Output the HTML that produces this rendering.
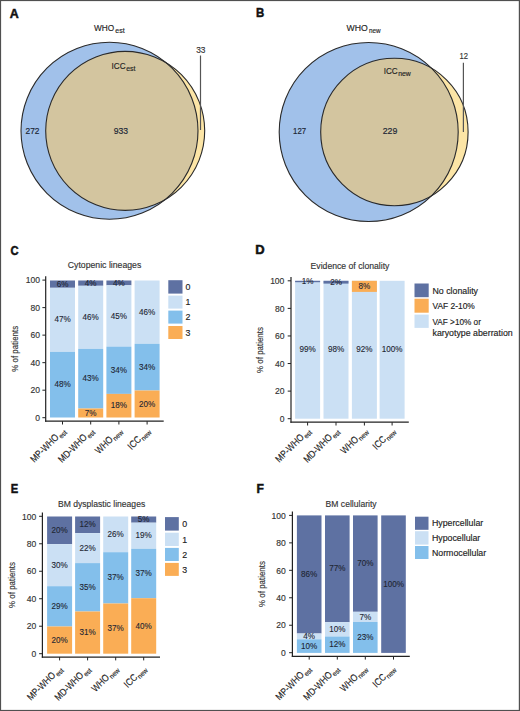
<!DOCTYPE html>
<html><head><meta charset="utf-8"><style>
html,body{margin:0;padding:0;background:#fff;}
body{width:520px;height:711px;overflow:hidden;}
svg{display:block;font-family:"Liberation Sans", sans-serif;}
</style></head><body>
<svg width="520" height="711" viewBox="0 0 520 711">
<rect x="0" y="0" width="520" height="711" fill="#fff"/>
<text x="9.87" y="17.9" font-size="13" text-anchor="start" font-weight="bold" fill="#111" textLength="8.98" lengthAdjust="spacingAndGlyphs" stroke="#111" stroke-width="0.5">A</text>
<clipPath id="clipa"><circle cx="109.5" cy="130.75" r="88.5"/></clipPath>
<circle cx="125.2" cy="130.85" r="79.5" fill="#fce5a6"/>
<circle cx="109.5" cy="130.75" r="88.5" fill="#a1c1ea"/>
<circle cx="125.2" cy="130.85" r="79.5" fill="#d3c59f" clip-path="url(#clipa)"/>
<circle cx="109.5" cy="130.75" r="88.5" fill="none" stroke="#2a2a2a" stroke-width="1.1"/>
<circle cx="125.2" cy="130.85" r="79.5" fill="none" stroke="#2a2a2a" stroke-width="1.1"/>
<text x="93.9" y="31.4" font-size="9.8" fill="#222" text-anchor="start"  stroke="#222" stroke-width="0.15"><tspan textLength="20.2" lengthAdjust="spacingAndGlyphs">WHO</tspan><tspan font-size="7" dy="1.8" dx="1.2" textLength="9.3" lengthAdjust="spacingAndGlyphs">est</tspan></text>
<text x="111.6" y="69.1" font-size="9.8" fill="#222" text-anchor="start"  stroke="#222" stroke-width="0.15"><tspan textLength="14.0" lengthAdjust="spacingAndGlyphs">ICC</tspan><tspan font-size="7" dy="2.0" dx="0.6" textLength="9.2" lengthAdjust="spacingAndGlyphs">est</tspan></text>
<text x="25.5" y="134.1" font-size="9.2" text-anchor="start" font-weight="normal" fill="#1c2636" textLength="13.9" lengthAdjust="spacingAndGlyphs" stroke="#1c2636" stroke-width="0.18">272</text>
<text x="113.8" y="134.1" font-size="9.2" text-anchor="start" font-weight="normal" fill="#1c2636" textLength="14.3" lengthAdjust="spacingAndGlyphs" stroke="#1c2636" stroke-width="0.18">933</text>
<text x="196.2" y="52.5" font-size="9.2" text-anchor="start" font-weight="normal" fill="#333" textLength="9.3" lengthAdjust="spacingAndGlyphs"  stroke="#333" stroke-width="0.15">33</text>
<line x1="200.5" y1="55.5" x2="200.5" y2="130" stroke="#555" stroke-width="1.2"/>
<text x="256.1" y="17.3" font-size="13" text-anchor="start" font-weight="bold" fill="#111" textLength="8.25" lengthAdjust="spacingAndGlyphs" stroke="#111" stroke-width="0.5">B</text>
<clipPath id="clipb"><circle cx="368.7" cy="132.0" r="89.5"/></clipPath>
<circle cx="394.4" cy="132.0" r="73.7" fill="#fce5a6"/>
<circle cx="368.7" cy="132.0" r="89.5" fill="#a1c1ea"/>
<circle cx="394.4" cy="132.0" r="73.7" fill="#d3c59f" clip-path="url(#clipb)"/>
<circle cx="368.7" cy="132.0" r="89.5" fill="none" stroke="#2a2a2a" stroke-width="1.1"/>
<circle cx="394.4" cy="132.0" r="73.7" fill="none" stroke="#2a2a2a" stroke-width="1.1"/>
<text x="346.6" y="31.4" font-size="9.8" fill="#222" text-anchor="start"  stroke="#222" stroke-width="0.15"><tspan textLength="21.2" lengthAdjust="spacingAndGlyphs">WHO</tspan><tspan font-size="7" dy="1.6" dx="1.2" textLength="11.6" lengthAdjust="spacingAndGlyphs">new</tspan></text>
<text x="383.7" y="73.7" font-size="9.8" fill="#222" text-anchor="start"  stroke="#222" stroke-width="0.15"><tspan textLength="14.0" lengthAdjust="spacingAndGlyphs">ICC</tspan><tspan font-size="7" dy="1.8" dx="0.6" textLength="12.5" lengthAdjust="spacingAndGlyphs">new</tspan></text>
<text x="293.1" y="134.1" font-size="9.2" text-anchor="start" font-weight="normal" fill="#1c2636" textLength="13" lengthAdjust="spacingAndGlyphs" stroke="#1c2636" stroke-width="0.18">127</text>
<text x="382.7" y="134.3" font-size="9.2" text-anchor="start" font-weight="normal" fill="#1c2636" textLength="14.6" lengthAdjust="spacingAndGlyphs" stroke="#1c2636" stroke-width="0.18">229</text>
<text x="459.5" y="59.2" font-size="9.2" text-anchor="start" font-weight="normal" fill="#333" textLength="8.5" lengthAdjust="spacingAndGlyphs"  stroke="#333" stroke-width="0.15">12</text>
<line x1="463.4" y1="62.8" x2="463.4" y2="131.9" stroke="#555" stroke-width="1.2"/>
<rect x="50" y="280.5" width="25" height="7.300000000000011" fill="#5e71a2"/>
<rect x="50" y="287.8" width="25" height="64.09999999999997" fill="#cbe0f4"/>
<rect x="50" y="351.9" width="25" height="65.60000000000002" fill="#83bfeb"/>
<text x="62.5" y="286.75" font-size="9" text-anchor="middle" font-weight="normal" fill="#1e2633" textLength="11.71" lengthAdjust="spacingAndGlyphs" stroke="#1e2633" stroke-width="0.12">6%</text>
<text x="62.5" y="322.45" font-size="9" text-anchor="middle" font-weight="normal" fill="#1e2633" textLength="16.21" lengthAdjust="spacingAndGlyphs" stroke="#1e2633" stroke-width="0.12">47%</text>
<text x="62.5" y="387.3" font-size="9" text-anchor="middle" font-weight="normal" fill="#1e2633" textLength="16.21" lengthAdjust="spacingAndGlyphs" stroke="#1e2633" stroke-width="0.12">48%</text>
<rect x="78.2" y="280.5" width="25" height="5.300000000000011" fill="#5e71a2"/>
<rect x="78.2" y="285.8" width="25" height="63.099999999999966" fill="#cbe0f4"/>
<rect x="78.2" y="348.9" width="25" height="59.60000000000002" fill="#83bfeb"/>
<rect x="78.2" y="408.5" width="25" height="9.0" fill="#faad55"/>
<text x="90.7" y="285.75" font-size="9" text-anchor="middle" font-weight="normal" fill="#1e2633" textLength="11.71" lengthAdjust="spacingAndGlyphs" stroke="#1e2633" stroke-width="0.12">4%</text>
<text x="90.7" y="319.95" font-size="9" text-anchor="middle" font-weight="normal" fill="#1e2633" textLength="16.21" lengthAdjust="spacingAndGlyphs" stroke="#1e2633" stroke-width="0.12">46%</text>
<text x="90.7" y="381.3" font-size="9" text-anchor="middle" font-weight="normal" fill="#1e2633" textLength="16.21" lengthAdjust="spacingAndGlyphs" stroke="#1e2633" stroke-width="0.12">43%</text>
<text x="90.7" y="415.6" font-size="9" text-anchor="middle" font-weight="normal" fill="#1e2633" textLength="11.71" lengthAdjust="spacingAndGlyphs" stroke="#1e2633" stroke-width="0.12">7%</text>
<rect x="106.4" y="280.5" width="25" height="4.800000000000011" fill="#5e71a2"/>
<rect x="106.4" y="285.3" width="25" height="61.30000000000001" fill="#cbe0f4"/>
<rect x="106.4" y="346.6" width="25" height="47.299999999999955" fill="#83bfeb"/>
<rect x="106.4" y="393.9" width="25" height="23.600000000000023" fill="#faad55"/>
<text x="118.9" y="285.5" font-size="9" text-anchor="middle" font-weight="normal" fill="#1e2633" textLength="11.71" lengthAdjust="spacingAndGlyphs" stroke="#1e2633" stroke-width="0.12">4%</text>
<text x="118.9" y="318.55" font-size="9" text-anchor="middle" font-weight="normal" fill="#1e2633" textLength="16.21" lengthAdjust="spacingAndGlyphs" stroke="#1e2633" stroke-width="0.12">45%</text>
<text x="118.9" y="372.85" font-size="9" text-anchor="middle" font-weight="normal" fill="#1e2633" textLength="16.21" lengthAdjust="spacingAndGlyphs" stroke="#1e2633" stroke-width="0.12">34%</text>
<text x="118.9" y="408.3" font-size="9" text-anchor="middle" font-weight="normal" fill="#1e2633" textLength="16.21" lengthAdjust="spacingAndGlyphs" stroke="#1e2633" stroke-width="0.12">18%</text>
<rect x="134.6" y="280.5" width="25" height="63.30000000000001" fill="#cbe0f4"/>
<rect x="134.6" y="343.8" width="25" height="46.69999999999999" fill="#83bfeb"/>
<rect x="134.6" y="390.5" width="25" height="27.0" fill="#faad55"/>
<text x="147.1" y="314.75" font-size="9" text-anchor="middle" font-weight="normal" fill="#1e2633" textLength="16.21" lengthAdjust="spacingAndGlyphs" stroke="#1e2633" stroke-width="0.12">46%</text>
<text x="147.1" y="369.75" font-size="9" text-anchor="middle" font-weight="normal" fill="#1e2633" textLength="16.21" lengthAdjust="spacingAndGlyphs" stroke="#1e2633" stroke-width="0.12">34%</text>
<text x="147.1" y="406.6" font-size="9" text-anchor="middle" font-weight="normal" fill="#1e2633" textLength="16.21" lengthAdjust="spacingAndGlyphs" stroke="#1e2633" stroke-width="0.12">20%</text>
<line x1="45.7" y1="276.20000000000005" x2="45.7" y2="421.8" stroke="#222" stroke-width="1.2"/>
<line x1="42.400000000000006" y1="280.10" x2="45.7" y2="280.10" stroke="#222" stroke-width="1"/>
<text x="40.0" y="283.3" font-size="9" text-anchor="end" font-weight="normal" fill="#333" textLength="14.26" lengthAdjust="spacingAndGlyphs"  stroke="#333" stroke-width="0.15">100</text>
<line x1="42.400000000000006" y1="307.62" x2="45.7" y2="307.62" stroke="#222" stroke-width="1"/>
<text x="40.0" y="310.82" font-size="9" text-anchor="end" font-weight="normal" fill="#333" textLength="9.51" lengthAdjust="spacingAndGlyphs"  stroke="#333" stroke-width="0.15">80</text>
<line x1="42.400000000000006" y1="335.14" x2="45.7" y2="335.14" stroke="#222" stroke-width="1"/>
<text x="40.0" y="338.34" font-size="9" text-anchor="end" font-weight="normal" fill="#333" textLength="9.51" lengthAdjust="spacingAndGlyphs"  stroke="#333" stroke-width="0.15">60</text>
<line x1="42.400000000000006" y1="362.66" x2="45.7" y2="362.66" stroke="#222" stroke-width="1"/>
<text x="40.0" y="365.86" font-size="9" text-anchor="end" font-weight="normal" fill="#333" textLength="9.51" lengthAdjust="spacingAndGlyphs"  stroke="#333" stroke-width="0.15">40</text>
<line x1="42.400000000000006" y1="390.18" x2="45.7" y2="390.18" stroke="#222" stroke-width="1"/>
<text x="40.0" y="393.38" font-size="9" text-anchor="end" font-weight="normal" fill="#333" textLength="9.51" lengthAdjust="spacingAndGlyphs"  stroke="#333" stroke-width="0.15">20</text>
<line x1="42.400000000000006" y1="417.70" x2="45.7" y2="417.70" stroke="#222" stroke-width="1"/>
<text x="40.0" y="420.9" font-size="9" text-anchor="end" font-weight="normal" fill="#333" textLength="4.75" lengthAdjust="spacingAndGlyphs"  stroke="#333" stroke-width="0.15">0</text>
<line x1="45.1" y1="421.2" x2="163.7" y2="421.2" stroke="#222" stroke-width="1.2"/>
<line x1="62.50" y1="421.2" x2="62.50" y2="424.5" stroke="#222" stroke-width="1"/>
<line x1="90.70" y1="421.2" x2="90.70" y2="424.5" stroke="#222" stroke-width="1"/>
<line x1="118.90" y1="421.2" x2="118.90" y2="424.5" stroke="#222" stroke-width="1"/>
<line x1="147.10" y1="421.2" x2="147.10" y2="424.5" stroke="#222" stroke-width="1"/>
<text x="0" y="0" font-size="9.8" fill="#222" stroke="#222" stroke-width="0.15" text-anchor="end" transform="translate(65.90,431.30) rotate(-45)"><tspan textLength="35.61" lengthAdjust="spacingAndGlyphs">MP-WHO</tspan><tspan font-size="6.8" dy="2.3" dx="0.6" textLength="8.62" lengthAdjust="spacingAndGlyphs">est</tspan></text>
<text x="0" y="0" font-size="9.8" fill="#222" stroke="#222" stroke-width="0.15" text-anchor="end" transform="translate(94.10,431.30) rotate(-45)"><tspan textLength="36.07" lengthAdjust="spacingAndGlyphs">MD-WHO</tspan><tspan font-size="6.8" dy="2.3" dx="0.6" textLength="8.62" lengthAdjust="spacingAndGlyphs">est</tspan></text>
<text x="0" y="0" font-size="9.8" fill="#222" stroke="#222" stroke-width="0.15" text-anchor="end" transform="translate(122.30,431.30) rotate(-45)"><tspan textLength="20.35" lengthAdjust="spacingAndGlyphs">WHO</tspan><tspan font-size="6.8" dy="2.3" dx="0.6" textLength="11.85" lengthAdjust="spacingAndGlyphs">new</tspan></text>
<text x="0" y="0" font-size="9.8" fill="#222" stroke="#222" stroke-width="0.15" text-anchor="end" transform="translate(150.50,431.30) rotate(-45)"><tspan textLength="14.34" lengthAdjust="spacingAndGlyphs">ICC</tspan><tspan font-size="6.8" dy="2.3" dx="0.6" textLength="11.85" lengthAdjust="spacingAndGlyphs">new</tspan></text>
<text x="0" y="0" font-size="9" fill="#333" stroke="#333" stroke-width="0.15" text-anchor="middle" textLength="45.8" lengthAdjust="spacingAndGlyphs" transform="translate(18.2,348.8) rotate(-90)">% of patients</text>
<text x="67.8" y="268" font-size="8.8" text-anchor="start" font-weight="normal" fill="#333" textLength="73.5" lengthAdjust="spacingAndGlyphs"  stroke="#333" stroke-width="0.15">Cytopenic lineages</text>
<text x="10.4" y="254.6" font-size="13" text-anchor="start" font-weight="bold" fill="#111" textLength="8.04" lengthAdjust="spacingAndGlyphs" stroke="#111" stroke-width="0.5">C</text>
<rect x="168.3" y="280.2" width="14.199999999999989" height="13.400000000000034" fill="#5e71a2"/>
<text x="185.6" y="290.1" font-size="8.8" text-anchor="start" font-weight="normal" fill="#222"  stroke="#222" stroke-width="0.15">0</text>
<rect x="168.3" y="295.6" width="14.199999999999989" height="13.0" fill="#cbe0f4"/>
<text x="185.6" y="305.3" font-size="8.8" text-anchor="start" font-weight="normal" fill="#222"  stroke="#222" stroke-width="0.15">1</text>
<rect x="168.3" y="310.6" width="14.199999999999989" height="13.0" fill="#83bfeb"/>
<text x="185.6" y="320.3" font-size="8.8" text-anchor="start" font-weight="normal" fill="#222"  stroke="#222" stroke-width="0.15">2</text>
<rect x="168.3" y="326" width="14.199999999999989" height="13" fill="#faad55"/>
<text x="185.6" y="335.7" font-size="8.8" text-anchor="start" font-weight="normal" fill="#222"  stroke="#222" stroke-width="0.15">3</text>
<rect x="295.1" y="280.8" width="25" height="137.89999999999998" fill="#cbe0f4"/>
<rect x="295.1" y="280.8" width="25" height="1.3999999999999773" fill="#5e71a2"/>
<text x="307.6" y="352.35" font-size="9" text-anchor="middle" font-weight="normal" fill="#1e2633" textLength="16.21" lengthAdjust="spacingAndGlyphs" stroke="#1e2633" stroke-width="0.12">99%</text>
<text x="307.6" y="284.1" font-size="9" text-anchor="middle" font-weight="normal" fill="#1e2633" textLength="11.71" lengthAdjust="spacingAndGlyphs" stroke="#1e2633" stroke-width="0.12">1%</text>
<rect x="323.5" y="280.8" width="25" height="137.89999999999998" fill="#cbe0f4"/>
<rect x="323.5" y="280.8" width="25" height="2.8000000000000114" fill="#5e71a2"/>
<text x="336.0" y="352.35" font-size="9" text-anchor="middle" font-weight="normal" fill="#1e2633" textLength="16.21" lengthAdjust="spacingAndGlyphs" stroke="#1e2633" stroke-width="0.12">98%</text>
<text x="336.0" y="284.8" font-size="9" text-anchor="middle" font-weight="normal" fill="#1e2633" textLength="11.71" lengthAdjust="spacingAndGlyphs" stroke="#1e2633" stroke-width="0.12">2%</text>
<rect x="351.9" y="280.8" width="25" height="137.89999999999998" fill="#cbe0f4"/>
<rect x="351.9" y="280.8" width="25" height="11.099999999999966" fill="#faad55"/>
<text x="364.4" y="352.35" font-size="9" text-anchor="middle" font-weight="normal" fill="#1e2633" textLength="16.21" lengthAdjust="spacingAndGlyphs" stroke="#1e2633" stroke-width="0.12">92%</text>
<text x="364.4" y="288.95" font-size="9" text-anchor="middle" font-weight="normal" fill="#1e2633" textLength="11.71" lengthAdjust="spacingAndGlyphs" stroke="#1e2633" stroke-width="0.12">8%</text>
<rect x="379.6" y="280.8" width="25" height="137.89999999999998" fill="#cbe0f4"/>
<text x="392.1" y="352.35" font-size="9" text-anchor="middle" font-weight="normal" fill="#1e2633" textLength="20.72" lengthAdjust="spacingAndGlyphs" stroke="#1e2633" stroke-width="0.12">100%</text>
<line x1="291" y1="276.90000000000003" x2="291" y2="422.8" stroke="#222" stroke-width="1.2"/>
<line x1="287.7" y1="280.80" x2="291" y2="280.80" stroke="#222" stroke-width="1"/>
<text x="284.4" y="284.0" font-size="9" text-anchor="end" font-weight="normal" fill="#333" textLength="14.26" lengthAdjust="spacingAndGlyphs"  stroke="#333" stroke-width="0.15">100</text>
<line x1="287.7" y1="308.38" x2="291" y2="308.38" stroke="#222" stroke-width="1"/>
<text x="284.4" y="311.58" font-size="9" text-anchor="end" font-weight="normal" fill="#333" textLength="9.51" lengthAdjust="spacingAndGlyphs"  stroke="#333" stroke-width="0.15">80</text>
<line x1="287.7" y1="335.96" x2="291" y2="335.96" stroke="#222" stroke-width="1"/>
<text x="284.4" y="339.16" font-size="9" text-anchor="end" font-weight="normal" fill="#333" textLength="9.51" lengthAdjust="spacingAndGlyphs"  stroke="#333" stroke-width="0.15">60</text>
<line x1="287.7" y1="363.54" x2="291" y2="363.54" stroke="#222" stroke-width="1"/>
<text x="284.4" y="366.74" font-size="9" text-anchor="end" font-weight="normal" fill="#333" textLength="9.51" lengthAdjust="spacingAndGlyphs"  stroke="#333" stroke-width="0.15">40</text>
<line x1="287.7" y1="391.12" x2="291" y2="391.12" stroke="#222" stroke-width="1"/>
<text x="284.4" y="394.32" font-size="9" text-anchor="end" font-weight="normal" fill="#333" textLength="9.51" lengthAdjust="spacingAndGlyphs"  stroke="#333" stroke-width="0.15">20</text>
<line x1="287.7" y1="418.70" x2="291" y2="418.70" stroke="#222" stroke-width="1"/>
<text x="284.4" y="421.9" font-size="9" text-anchor="end" font-weight="normal" fill="#333" textLength="4.75" lengthAdjust="spacingAndGlyphs"  stroke="#333" stroke-width="0.15">0</text>
<line x1="290.4" y1="422.2" x2="408.8" y2="422.2" stroke="#222" stroke-width="1.2"/>
<line x1="307.60" y1="422.2" x2="307.60" y2="425.5" stroke="#222" stroke-width="1"/>
<line x1="336.00" y1="422.2" x2="336.00" y2="425.5" stroke="#222" stroke-width="1"/>
<line x1="364.40" y1="422.2" x2="364.40" y2="425.5" stroke="#222" stroke-width="1"/>
<line x1="392.10" y1="422.2" x2="392.10" y2="425.5" stroke="#222" stroke-width="1"/>
<text x="0" y="0" font-size="9.8" fill="#222" stroke="#222" stroke-width="0.15" text-anchor="end" transform="translate(311.00,431.30) rotate(-45)"><tspan textLength="35.61" lengthAdjust="spacingAndGlyphs">MP-WHO</tspan><tspan font-size="6.8" dy="2.3" dx="0.6" textLength="8.62" lengthAdjust="spacingAndGlyphs">est</tspan></text>
<text x="0" y="0" font-size="9.8" fill="#222" stroke="#222" stroke-width="0.15" text-anchor="end" transform="translate(339.40,431.30) rotate(-45)"><tspan textLength="36.07" lengthAdjust="spacingAndGlyphs">MD-WHO</tspan><tspan font-size="6.8" dy="2.3" dx="0.6" textLength="8.62" lengthAdjust="spacingAndGlyphs">est</tspan></text>
<text x="0" y="0" font-size="9.8" fill="#222" stroke="#222" stroke-width="0.15" text-anchor="end" transform="translate(367.80,431.30) rotate(-45)"><tspan textLength="20.35" lengthAdjust="spacingAndGlyphs">WHO</tspan><tspan font-size="6.8" dy="2.3" dx="0.6" textLength="11.85" lengthAdjust="spacingAndGlyphs">new</tspan></text>
<text x="0" y="0" font-size="9.8" fill="#222" stroke="#222" stroke-width="0.15" text-anchor="end" transform="translate(395.50,431.30) rotate(-45)"><tspan textLength="14.34" lengthAdjust="spacingAndGlyphs">ICC</tspan><tspan font-size="6.8" dy="2.3" dx="0.6" textLength="11.85" lengthAdjust="spacingAndGlyphs">new</tspan></text>
<text x="0" y="0" font-size="9" fill="#333" stroke="#333" stroke-width="0.15" text-anchor="middle" textLength="45.8" lengthAdjust="spacingAndGlyphs" transform="translate(263.3,350) rotate(-90)">% of patients</text>
<text x="310.6" y="268.5" font-size="8.8" text-anchor="start" font-weight="normal" fill="#333" textLength="78.8" lengthAdjust="spacingAndGlyphs"  stroke="#333" stroke-width="0.15">Evidence of clonality</text>
<text x="255.33" y="254.3" font-size="13" text-anchor="start" font-weight="bold" fill="#111" stroke="#111" stroke-width="0.5">D</text>
<rect x="414.5" y="283.5" width="14.199999999999989" height="13.699999999999989" fill="#5e71a2"/>
<text x="432.5" y="293.55" font-size="8.8" text-anchor="start" font-weight="normal" fill="#222"  stroke="#222" stroke-width="0.15">No clonality</text>
<rect x="414.5" y="298.7" width="14.199999999999989" height="14.0" fill="#faad55"/>
<text x="432.5" y="308.9" font-size="8.8" text-anchor="start" font-weight="normal" fill="#222" textLength="42.3" lengthAdjust="spacingAndGlyphs"  stroke="#222" stroke-width="0.15">VAF 2-10%</text>
<rect x="414.5" y="314.6" width="14.199999999999989" height="13.299999999999955" fill="#cbe0f4"/>
<text x="432.5" y="325.0" font-size="8.8" text-anchor="start" font-weight="normal" fill="#222" textLength="48.4" lengthAdjust="spacingAndGlyphs"  stroke="#222" stroke-width="0.15">VAF &gt;10% or</text>
<text x="432.5" y="336.0" font-size="8.8" text-anchor="start" font-weight="normal" fill="#222"  stroke="#222" stroke-width="0.15">karyotype aberration</text>
<rect x="47.1" y="516.5" width="25" height="27.700000000000045" fill="#5e71a2"/>
<rect x="47.1" y="544.2" width="25" height="42.0" fill="#cbe0f4"/>
<rect x="47.1" y="586.2" width="25" height="40.299999999999955" fill="#83bfeb"/>
<rect x="47.1" y="626.5" width="25" height="27.200000000000045" fill="#faad55"/>
<text x="59.6" y="532.95" font-size="9" text-anchor="middle" font-weight="normal" fill="#1e2633" textLength="16.21" lengthAdjust="spacingAndGlyphs" stroke="#1e2633" stroke-width="0.12">20%</text>
<text x="59.6" y="567.8" font-size="9" text-anchor="middle" font-weight="normal" fill="#1e2633" textLength="16.21" lengthAdjust="spacingAndGlyphs" stroke="#1e2633" stroke-width="0.12">30%</text>
<text x="59.6" y="608.95" font-size="9" text-anchor="middle" font-weight="normal" fill="#1e2633" textLength="16.21" lengthAdjust="spacingAndGlyphs" stroke="#1e2633" stroke-width="0.12">29%</text>
<text x="59.6" y="642.7" font-size="9" text-anchor="middle" font-weight="normal" fill="#1e2633" textLength="16.21" lengthAdjust="spacingAndGlyphs" stroke="#1e2633" stroke-width="0.12">20%</text>
<rect x="75.1" y="516.5" width="25" height="16.600000000000023" fill="#5e71a2"/>
<rect x="75.1" y="533.1" width="25" height="30.0" fill="#cbe0f4"/>
<rect x="75.1" y="563.1" width="25" height="48.39999999999998" fill="#83bfeb"/>
<rect x="75.1" y="611.5" width="25" height="42.200000000000045" fill="#faad55"/>
<text x="87.6" y="527.4" font-size="9" text-anchor="middle" font-weight="normal" fill="#1e2633" textLength="16.21" lengthAdjust="spacingAndGlyphs" stroke="#1e2633" stroke-width="0.12">12%</text>
<text x="87.6" y="550.7" font-size="9" text-anchor="middle" font-weight="normal" fill="#1e2633" textLength="16.21" lengthAdjust="spacingAndGlyphs" stroke="#1e2633" stroke-width="0.12">22%</text>
<text x="87.6" y="589.9" font-size="9" text-anchor="middle" font-weight="normal" fill="#1e2633" textLength="16.21" lengthAdjust="spacingAndGlyphs" stroke="#1e2633" stroke-width="0.12">35%</text>
<text x="87.6" y="635.2" font-size="9" text-anchor="middle" font-weight="normal" fill="#1e2633" textLength="16.21" lengthAdjust="spacingAndGlyphs" stroke="#1e2633" stroke-width="0.12">31%</text>
<rect x="103.2" y="516.5" width="25" height="35.700000000000045" fill="#cbe0f4"/>
<rect x="103.2" y="552.2" width="25" height="51.299999999999955" fill="#83bfeb"/>
<rect x="103.2" y="603.5" width="25" height="50.200000000000045" fill="#faad55"/>
<text x="115.7" y="536.95" font-size="9" text-anchor="middle" font-weight="normal" fill="#1e2633" textLength="16.21" lengthAdjust="spacingAndGlyphs" stroke="#1e2633" stroke-width="0.12">26%</text>
<text x="115.7" y="580.45" font-size="9" text-anchor="middle" font-weight="normal" fill="#1e2633" textLength="16.21" lengthAdjust="spacingAndGlyphs" stroke="#1e2633" stroke-width="0.12">37%</text>
<text x="115.7" y="631.2" font-size="9" text-anchor="middle" font-weight="normal" fill="#1e2633" textLength="16.21" lengthAdjust="spacingAndGlyphs" stroke="#1e2633" stroke-width="0.12">37%</text>
<rect x="131.2" y="516.5" width="25" height="6.2000000000000455" fill="#5e71a2"/>
<rect x="131.2" y="522.7" width="25" height="26.09999999999991" fill="#cbe0f4"/>
<rect x="131.2" y="548.8" width="25" height="49.40000000000009" fill="#83bfeb"/>
<rect x="131.2" y="598.2" width="25" height="55.5" fill="#faad55"/>
<text x="143.7" y="522.2" font-size="9" text-anchor="middle" font-weight="normal" fill="#1e2633" textLength="11.71" lengthAdjust="spacingAndGlyphs" stroke="#1e2633" stroke-width="0.12">5%</text>
<text x="143.7" y="538.35" font-size="9" text-anchor="middle" font-weight="normal" fill="#1e2633" textLength="16.21" lengthAdjust="spacingAndGlyphs" stroke="#1e2633" stroke-width="0.12">19%</text>
<text x="143.7" y="576.1" font-size="9" text-anchor="middle" font-weight="normal" fill="#1e2633" textLength="16.21" lengthAdjust="spacingAndGlyphs" stroke="#1e2633" stroke-width="0.12">37%</text>
<text x="143.7" y="628.55" font-size="9" text-anchor="middle" font-weight="normal" fill="#1e2633" textLength="16.21" lengthAdjust="spacingAndGlyphs" stroke="#1e2633" stroke-width="0.12">40%</text>
<line x1="42.4" y1="512.4" x2="42.4" y2="657.7" stroke="#222" stroke-width="1.2"/>
<line x1="39.1" y1="516.30" x2="42.4" y2="516.30" stroke="#222" stroke-width="1"/>
<text x="36.3" y="519.5" font-size="9" text-anchor="end" font-weight="normal" fill="#333" textLength="14.26" lengthAdjust="spacingAndGlyphs"  stroke="#333" stroke-width="0.15">100</text>
<line x1="39.1" y1="543.78" x2="42.4" y2="543.78" stroke="#222" stroke-width="1"/>
<text x="36.3" y="546.98" font-size="9" text-anchor="end" font-weight="normal" fill="#333" textLength="9.51" lengthAdjust="spacingAndGlyphs"  stroke="#333" stroke-width="0.15">80</text>
<line x1="39.1" y1="571.26" x2="42.4" y2="571.26" stroke="#222" stroke-width="1"/>
<text x="36.3" y="574.46" font-size="9" text-anchor="end" font-weight="normal" fill="#333" textLength="9.51" lengthAdjust="spacingAndGlyphs"  stroke="#333" stroke-width="0.15">60</text>
<line x1="39.1" y1="598.74" x2="42.4" y2="598.74" stroke="#222" stroke-width="1"/>
<text x="36.3" y="601.94" font-size="9" text-anchor="end" font-weight="normal" fill="#333" textLength="9.51" lengthAdjust="spacingAndGlyphs"  stroke="#333" stroke-width="0.15">40</text>
<line x1="39.1" y1="626.22" x2="42.4" y2="626.22" stroke="#222" stroke-width="1"/>
<text x="36.3" y="629.42" font-size="9" text-anchor="end" font-weight="normal" fill="#333" textLength="9.51" lengthAdjust="spacingAndGlyphs"  stroke="#333" stroke-width="0.15">20</text>
<line x1="39.1" y1="653.70" x2="42.4" y2="653.70" stroke="#222" stroke-width="1"/>
<text x="36.3" y="656.9" font-size="9" text-anchor="end" font-weight="normal" fill="#333" textLength="4.75" lengthAdjust="spacingAndGlyphs"  stroke="#333" stroke-width="0.15">0</text>
<line x1="41.8" y1="657.1" x2="160" y2="657.1" stroke="#222" stroke-width="1.2"/>
<line x1="59.60" y1="657.1" x2="59.60" y2="660.4" stroke="#222" stroke-width="1"/>
<line x1="87.60" y1="657.1" x2="87.60" y2="660.4" stroke="#222" stroke-width="1"/>
<line x1="115.70" y1="657.1" x2="115.70" y2="660.4" stroke="#222" stroke-width="1"/>
<line x1="143.70" y1="657.1" x2="143.70" y2="660.4" stroke="#222" stroke-width="1"/>
<text x="0" y="0" font-size="9.8" fill="#222" stroke="#222" stroke-width="0.15" text-anchor="end" transform="translate(62.60,669.30) rotate(-45)"><tspan textLength="35.61" lengthAdjust="spacingAndGlyphs">MP-WHO</tspan><tspan font-size="6.8" dy="2.3" dx="0.6" textLength="8.62" lengthAdjust="spacingAndGlyphs">est</tspan></text>
<text x="0" y="0" font-size="9.8" fill="#222" stroke="#222" stroke-width="0.15" text-anchor="end" transform="translate(90.60,669.30) rotate(-45)"><tspan textLength="36.07" lengthAdjust="spacingAndGlyphs">MD-WHO</tspan><tspan font-size="6.8" dy="2.3" dx="0.6" textLength="8.62" lengthAdjust="spacingAndGlyphs">est</tspan></text>
<text x="0" y="0" font-size="9.8" fill="#222" stroke="#222" stroke-width="0.15" text-anchor="end" transform="translate(118.70,669.30) rotate(-45)"><tspan textLength="20.35" lengthAdjust="spacingAndGlyphs">WHO</tspan><tspan font-size="6.8" dy="2.3" dx="0.6" textLength="11.85" lengthAdjust="spacingAndGlyphs">new</tspan></text>
<text x="0" y="0" font-size="9.8" fill="#222" stroke="#222" stroke-width="0.15" text-anchor="end" transform="translate(146.70,669.30) rotate(-45)"><tspan textLength="14.34" lengthAdjust="spacingAndGlyphs">ICC</tspan><tspan font-size="6.8" dy="2.3" dx="0.6" textLength="11.85" lengthAdjust="spacingAndGlyphs">new</tspan></text>
<text x="0" y="0" font-size="9" fill="#333" stroke="#333" stroke-width="0.15" text-anchor="middle" textLength="45.8" lengthAdjust="spacingAndGlyphs" transform="translate(14.5,585) rotate(-90)">% of patients</text>
<text x="58" y="506.5" font-size="8.8" text-anchor="start" font-weight="normal" fill="#333" textLength="87.2" lengthAdjust="spacingAndGlyphs"  stroke="#333" stroke-width="0.15">BM dysplastic lineages</text>
<text x="10.75" y="492.9" font-size="13" text-anchor="start" font-weight="bold" fill="#111" textLength="7.47" lengthAdjust="spacingAndGlyphs" stroke="#111" stroke-width="0.5">E</text>
<rect x="165" y="517.1" width="13.800000000000011" height="13.5" fill="#5e71a2"/>
<text x="182.3" y="527.05" font-size="8.8" text-anchor="start" font-weight="normal" fill="#222"  stroke="#222" stroke-width="0.15">0</text>
<rect x="165" y="532.7" width="13.800000000000011" height="13.299999999999955" fill="#cbe0f4"/>
<text x="182.3" y="542.55" font-size="8.8" text-anchor="start" font-weight="normal" fill="#222"  stroke="#222" stroke-width="0.15">1</text>
<rect x="165" y="547.9" width="13.800000000000011" height="13.100000000000023" fill="#83bfeb"/>
<text x="182.3" y="557.65" font-size="8.8" text-anchor="start" font-weight="normal" fill="#222"  stroke="#222" stroke-width="0.15">2</text>
<rect x="165" y="562.9" width="13.800000000000011" height="13.0" fill="#faad55"/>
<text x="182.3" y="572.6" font-size="8.8" text-anchor="start" font-weight="normal" fill="#222"  stroke="#222" stroke-width="0.15">3</text>
<rect x="296.9" y="515.4" width="24.6" height="118.10000000000002" fill="#5e71a2"/>
<rect x="296.9" y="633.5" width="24.6" height="5.7999999999999545" fill="#cbe0f4"/>
<rect x="296.9" y="639.3" width="24.6" height="13.600000000000023" fill="#83bfeb"/>
<text x="309.2" y="577.05" font-size="9" text-anchor="middle" font-weight="normal" fill="#1e2633" textLength="16.21" lengthAdjust="spacingAndGlyphs" stroke="#1e2633" stroke-width="0.12">86%</text>
<text x="309.2" y="639.0" font-size="9" text-anchor="middle" font-weight="normal" fill="#1e2633" textLength="11.71" lengthAdjust="spacingAndGlyphs" stroke="#1e2633" stroke-width="0.12">4%</text>
<text x="309.2" y="648.7" font-size="9" text-anchor="middle" font-weight="normal" fill="#1e2633" textLength="16.21" lengthAdjust="spacingAndGlyphs" stroke="#1e2633" stroke-width="0.12">10%</text>
<rect x="325" y="515.4" width="24.6" height="106.80000000000007" fill="#5e71a2"/>
<rect x="325" y="622.2" width="24.6" height="14.299999999999955" fill="#cbe0f4"/>
<rect x="325" y="636.5" width="24.6" height="16.399999999999977" fill="#83bfeb"/>
<text x="337.3" y="571.4" font-size="9" text-anchor="middle" font-weight="normal" fill="#1e2633" textLength="16.21" lengthAdjust="spacingAndGlyphs" stroke="#1e2633" stroke-width="0.12">77%</text>
<text x="337.3" y="631.95" font-size="9" text-anchor="middle" font-weight="normal" fill="#1e2633" textLength="16.21" lengthAdjust="spacingAndGlyphs" stroke="#1e2633" stroke-width="0.12">10%</text>
<text x="337.3" y="647.3" font-size="9" text-anchor="middle" font-weight="normal" fill="#1e2633" textLength="16.21" lengthAdjust="spacingAndGlyphs" stroke="#1e2633" stroke-width="0.12">12%</text>
<rect x="353" y="515.4" width="24.6" height="96.39999999999998" fill="#5e71a2"/>
<rect x="353" y="611.8" width="24.6" height="10.200000000000045" fill="#cbe0f4"/>
<rect x="353" y="622" width="24.6" height="30.899999999999977" fill="#83bfeb"/>
<text x="365.3" y="566.2" font-size="9" text-anchor="middle" font-weight="normal" fill="#1e2633" textLength="16.21" lengthAdjust="spacingAndGlyphs" stroke="#1e2633" stroke-width="0.12">70%</text>
<text x="365.3" y="619.5" font-size="9" text-anchor="middle" font-weight="normal" fill="#1e2633" textLength="11.71" lengthAdjust="spacingAndGlyphs" stroke="#1e2633" stroke-width="0.12">7%</text>
<text x="365.3" y="640.05" font-size="9" text-anchor="middle" font-weight="normal" fill="#1e2633" textLength="16.21" lengthAdjust="spacingAndGlyphs" stroke="#1e2633" stroke-width="0.12">23%</text>
<rect x="381.2" y="515.4" width="24.6" height="137.5" fill="#5e71a2"/>
<text x="393.5" y="586.75" font-size="9" text-anchor="middle" font-weight="normal" fill="#1e2633" textLength="20.72" lengthAdjust="spacingAndGlyphs" stroke="#1e2633" stroke-width="0.12">100%</text>
<line x1="292.4" y1="511.5" x2="292.4" y2="656.9" stroke="#222" stroke-width="1.2"/>
<line x1="289.09999999999997" y1="515.40" x2="292.4" y2="515.40" stroke="#222" stroke-width="1"/>
<text x="285.79999999999995" y="518.6" font-size="9" text-anchor="end" font-weight="normal" fill="#333" textLength="14.26" lengthAdjust="spacingAndGlyphs"  stroke="#333" stroke-width="0.15">100</text>
<line x1="289.09999999999997" y1="542.86" x2="292.4" y2="542.86" stroke="#222" stroke-width="1"/>
<text x="285.79999999999995" y="546.06" font-size="9" text-anchor="end" font-weight="normal" fill="#333" textLength="9.51" lengthAdjust="spacingAndGlyphs"  stroke="#333" stroke-width="0.15">80</text>
<line x1="289.09999999999997" y1="570.32" x2="292.4" y2="570.32" stroke="#222" stroke-width="1"/>
<text x="285.79999999999995" y="573.52" font-size="9" text-anchor="end" font-weight="normal" fill="#333" textLength="9.51" lengthAdjust="spacingAndGlyphs"  stroke="#333" stroke-width="0.15">60</text>
<line x1="289.09999999999997" y1="597.78" x2="292.4" y2="597.78" stroke="#222" stroke-width="1"/>
<text x="285.79999999999995" y="600.98" font-size="9" text-anchor="end" font-weight="normal" fill="#333" textLength="9.51" lengthAdjust="spacingAndGlyphs"  stroke="#333" stroke-width="0.15">40</text>
<line x1="289.09999999999997" y1="625.24" x2="292.4" y2="625.24" stroke="#222" stroke-width="1"/>
<text x="285.79999999999995" y="628.44" font-size="9" text-anchor="end" font-weight="normal" fill="#333" textLength="9.51" lengthAdjust="spacingAndGlyphs"  stroke="#333" stroke-width="0.15">20</text>
<line x1="289.09999999999997" y1="652.70" x2="292.4" y2="652.70" stroke="#222" stroke-width="1"/>
<text x="285.79999999999995" y="655.9" font-size="9" text-anchor="end" font-weight="normal" fill="#333" textLength="4.75" lengthAdjust="spacingAndGlyphs"  stroke="#333" stroke-width="0.15">0</text>
<line x1="291.79999999999995" y1="656.3" x2="409.8" y2="656.3" stroke="#222" stroke-width="1.2"/>
<line x1="309.20" y1="656.3" x2="309.20" y2="659.5999999999999" stroke="#222" stroke-width="1"/>
<line x1="337.30" y1="656.3" x2="337.30" y2="659.5999999999999" stroke="#222" stroke-width="1"/>
<line x1="365.30" y1="656.3" x2="365.30" y2="659.5999999999999" stroke="#222" stroke-width="1"/>
<line x1="393.50" y1="656.3" x2="393.50" y2="659.5999999999999" stroke="#222" stroke-width="1"/>
<text x="0" y="0" font-size="9.8" fill="#222" stroke="#222" stroke-width="0.15" text-anchor="end" transform="translate(311.20,669.00) rotate(-45)"><tspan textLength="35.61" lengthAdjust="spacingAndGlyphs">MP-WHO</tspan><tspan font-size="6.8" dy="2.3" dx="0.6" textLength="8.62" lengthAdjust="spacingAndGlyphs">est</tspan></text>
<text x="0" y="0" font-size="9.8" fill="#222" stroke="#222" stroke-width="0.15" text-anchor="end" transform="translate(339.30,669.00) rotate(-45)"><tspan textLength="36.07" lengthAdjust="spacingAndGlyphs">MD-WHO</tspan><tspan font-size="6.8" dy="2.3" dx="0.6" textLength="8.62" lengthAdjust="spacingAndGlyphs">est</tspan></text>
<text x="0" y="0" font-size="9.8" fill="#222" stroke="#222" stroke-width="0.15" text-anchor="end" transform="translate(367.30,669.00) rotate(-45)"><tspan textLength="20.35" lengthAdjust="spacingAndGlyphs">WHO</tspan><tspan font-size="6.8" dy="2.3" dx="0.6" textLength="11.85" lengthAdjust="spacingAndGlyphs">new</tspan></text>
<text x="0" y="0" font-size="9.8" fill="#222" stroke="#222" stroke-width="0.15" text-anchor="end" transform="translate(395.50,669.00) rotate(-45)"><tspan textLength="14.34" lengthAdjust="spacingAndGlyphs">ICC</tspan><tspan font-size="6.8" dy="2.3" dx="0.6" textLength="11.85" lengthAdjust="spacingAndGlyphs">new</tspan></text>
<text x="0" y="0" font-size="9" fill="#333" stroke="#333" stroke-width="0.15" text-anchor="middle" textLength="45.8" lengthAdjust="spacingAndGlyphs" transform="translate(265.2,584) rotate(-90)">% of patients</text>
<text x="325.6" y="506.5" font-size="8.8" text-anchor="start" font-weight="normal" fill="#333" textLength="51" lengthAdjust="spacingAndGlyphs"  stroke="#333" stroke-width="0.15">BM cellularity</text>
<text x="256.43" y="493.0" font-size="13" text-anchor="start" font-weight="bold" fill="#111" textLength="7.4" lengthAdjust="spacingAndGlyphs" stroke="#111" stroke-width="0.5">F</text>
<rect x="415" y="516.7" width="13.5" height="13.099999999999909" fill="#5e71a2"/>
<text x="431.9" y="526.45" font-size="8.8" text-anchor="start" font-weight="normal" fill="#222"  stroke="#222" stroke-width="0.15">Hypercellular</text>
<rect x="415" y="531.2" width="13.5" height="13.399999999999977" fill="#cbe0f4"/>
<text x="431.9" y="541.1" font-size="8.8" text-anchor="start" font-weight="normal" fill="#222"  stroke="#222" stroke-width="0.15">Hypocellular</text>
<rect x="415" y="546" width="13.5" height="13" fill="#83bfeb"/>
<text x="431.9" y="555.7" font-size="8.8" text-anchor="start" font-weight="normal" fill="#222"  stroke="#222" stroke-width="0.15">Normocellular</text>
<rect x="0" y="0" width="520" height="1.1" fill="#505050"/>
<rect x="0" y="0" width="1.1" height="711" fill="#505050"/>
<rect x="518.8" y="0" width="1.2" height="711" fill="#505050"/>
<rect x="0" y="709.9" width="520" height="1.1" fill="#505050"/>
</svg>
</body></html>
